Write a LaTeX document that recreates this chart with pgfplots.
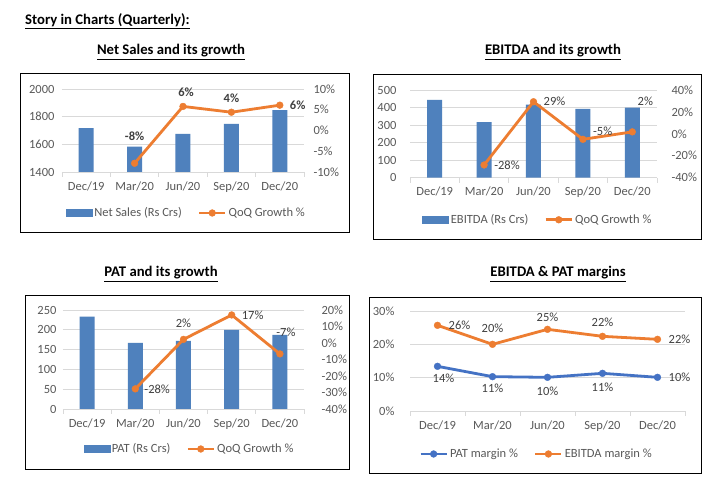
\documentclass[border=0pt]{standalone}
\usepackage{fontspec}
\setmainfont{Carlito}
\usepackage{pgfplots}
\pgfplotsset{compat=1.18}
\definecolor{barblue}{HTML}{4F81BD}
\definecolor{lorange}{HTML}{ED7D31}
\definecolor{lblue}{HTML}{4472C4}
\definecolor{gridgray}{HTML}{D9D9D9}
\definecolor{ticktext}{HTML}{595959}
\definecolor{labtext}{HTML}{404040}
\newcommand{\fs}{\fontsize{12.5}{14}\selectfont}
\newcommand{\tfs}{\fontsize{14.7}{17}\selectfont\bfseries}
\pgfplotsset{
  common/.style={
    scale only axis,
    xmin=-0.5, xmax=4.5,
    /pgf/number format/assume math mode=true,
    /pgf/number format/1000 sep={},
    tick label style={font=\fs, text=ticktext},
    axis line style={draw=none},
    major tick length=0pt,
    y tick style={draw=none},
  },
  leftax/.style={common,
    xtick={0,...,4},
    xticklabels={Dec/19,Mar/20,Jun/20,Sep/20,Dec/20},
    minor xtick={-0.5,0.5,...,4.5},
    minor tick length=5pt,
    tick align=outside,
    xtick pos=bottom,
    ytick pos=left,
    minor x tick style={draw=gridgray, line width=0.75pt},
    ymajorgrids,
    major grid style={draw=gridgray, line width=0.75pt},
    xticklabel style={yshift=-6pt},
    yticklabel style={xshift=-4pt},
  },
  rightax/.style={common,
    xtick=\empty,
    ytick pos=right,
    yticklabel={\pgfmathprintnumber{\tick}\%},
    yticklabel style={xshift=6pt},
    legend style={draw=none, fill=none, font=\fs, text=ticktext, legend columns=2, anchor=center,
      /tikz/every even column/.append style={column sep=14pt}},
  },
  bars/.style={ybar, bar width=15pt, fill=barblue, draw=none},
  barleg/.style={legend image code/.code={\fill[barblue] (0pt,-3.5pt) rectangle (26pt,3.5pt);}},
  lineser/.style={line width=2.8pt, mark=*, mark size=3.4pt,
    mark options={solid, fill=#1, draw=#1, line width=0.4pt}, #1,
    legend image code/.code={\draw[mark repeat=2,mark phase=2,##1] plot coordinates {(0pt,0pt)(13pt,0pt)(26pt,0pt)};},
    nodes near coords, point meta=explicit symbolic,
    every node near coord/.append style={font=\fs, text=labtext, inner sep=2pt}},
}
\begin{document}
\begin{tikzpicture}
\path[use as bounding box, fill=white] (0pt,0pt) rectangle (724pt,489pt);
% titles
\node[anchor=west, inner sep=0pt] at (25pt,468pt) {\tfs\underline{Story in Charts (Quarterly):}};
\node[inner sep=0pt] at (171pt,437pt) {\tfs\underline{Net Sales and its growth}};
\node[inner sep=0pt] at (553pt,437pt) {\tfs\underline{EBITDA and its growth}};
\node[inner sep=0pt] at (161pt,215pt) {\tfs\underline{PAT and its growth}};
\node[inner sep=0pt] at (558pt,215pt) {\tfs\underline{EBITDA \& PAT margins}};
% frames
\draw[black, line width=1pt] (20pt,256pt) rectangle (349pt,415pt);
\draw[black, line width=1pt] (373pt,249pt) rectangle (701pt,414pt);
\draw[black, line width=1pt] (25pt,19pt) rectangle (349pt,193pt);
\draw[black, line width=1pt] (369pt,15pt) rectangle (701pt,191pt);

% ---------- Panel 1: Net Sales ----------
\begin{axis}[leftax, at={(62pt,317pt)}, anchor=south west, width=242pt, height=83pt,
  ymin=1400, ymax=2000, ytick={1400,1600,1800,2000}]
\addplot[bars] coordinates {(0,1718) (1,1583) (2,1675) (3,1747) (4,1848)};
\end{axis}
\begin{axis}[rightax, at={(62pt,317pt)}, anchor=south west, width=242pt, height=83pt,
  ymin=-10, ymax=10, ytick={-10,-5,0,5,10},
  legend style={at={(0.514,-0.494)}}]
\addlegendimage{barleg}
\addlegendentry{Net Sales (Rs Crs)}
\addplot[lineser=lorange,
  every node near coord/.append style={font=\fs\bfseries},
  coordinate style/.condition={\coordindex==0}{anchor=south, yshift=20pt},
  coordinate style/.condition={\coordindex==1}{anchor=south, yshift=8pt, xshift=3pt},
  coordinate style/.condition={\coordindex==2}{anchor=south, yshift=7pt},
  coordinate style/.condition={\coordindex==3}{anchor=west, xshift=8pt}]
  coordinates {(1,-7.9) [-8\%] (2,5.8) [6\%] (3,4.4) [4\%] (4,6.1) [6\%]};
\addlegendentry{QoQ Growth \%}
\end{axis}

% ---------- Panel 2: EBITDA ----------
\begin{axis}[leftax, at={(410pt,311.3pt)}, anchor=south west, width=247pt, height=87.7pt,
  ymin=0, ymax=500, ytick={0,100,...,500}, yticklabel style={xshift=-6pt}]
\addplot[bars] coordinates {(0,443) (1,317) (2,416) (3,393) (4,399)};
\end{axis}
\begin{axis}[rightax, at={(410pt,311.3pt)}, anchor=south west, width=247pt, height=87.7pt,
  ymin=-40, ymax=40, ytick={-40,-20,0,20,40}, yticklabel style={xshift=5pt},
  legend style={at={(0.518,-0.48)}}]
\addlegendimage{barleg}
\addlegendentry{EBITDA (Rs Crs)}
\addplot[lineser=lorange,
  coordinate style/.condition={\coordindex==0}{anchor=west, xshift=8pt},
  coordinate style/.condition={\coordindex==1}{anchor=west, xshift=8pt},
  coordinate style/.condition={\coordindex==2}{anchor=south west, xshift=8pt, yshift=2pt},
  coordinate style/.condition={\coordindex==3}{anchor=south, xshift=13pt, yshift=24pt}]
  coordinates {(1,-28.4) [-28\%] (2,29.3) [29\%] (3,-5.0) [-5\%] (4,1.8) [2\%]};
\addlegendentry{QoQ Growth \%}
\end{axis}

% ---------- Panel 3: PAT ----------
\begin{axis}[leftax, at={(63pt,80pt)}, anchor=south west, width=241pt, height=99pt,
  ymin=0, ymax=250, ytick={0,50,...,250}, yticklabel style={xshift=1pt}]
\addplot[bars] coordinates {(0,233) (1,167) (2,172) (3,200) (4,187)};
\end{axis}
\begin{axis}[rightax, at={(63pt,80pt)}, anchor=south west, width=241pt, height=99pt,
  ymin=-40, ymax=20, ytick={-40,-30,...,20}, yticklabel style={xshift=8pt},
  legend style={at={(0.525,-0.404)}}]
\addlegendimage{barleg}
\addlegendentry{PAT (Rs Crs)}
\addplot[lineser=lorange,
  coordinate style/.condition={\coordindex==0}{anchor=west, xshift=7pt},
  coordinate style/.condition={\coordindex==1}{anchor=south, yshift=10pt},
  coordinate style/.condition={\coordindex==2}{anchor=west, xshift=8pt},
  coordinate style/.condition={\coordindex==3}{anchor=south, xshift=6pt, yshift=15pt}]
  coordinates {(1,-27.8) [-28\%] (2,2.2) [2\%] (3,17.0) [17\%] (4,-6.6) [-7\%]};
\addlegendentry{QoQ Growth \%}
\end{axis}

% ---------- Panel 4: margins ----------
\begin{axis}[leftax, at={(410pt,78pt)}, anchor=south west, width=275pt, height=100pt,
  ymin=0, ymax=30, ytick={0,10,20,30}, yticklabel={\pgfmathprintnumber{\tick}\%},
  yticklabel style={xshift=-8pt},
  legend style={draw=none, fill=none, font=\fs, text=ticktext, legend columns=2, anchor=center,
    at={(0.46,-0.43)}, /tikz/every even column/.append style={column sep=14pt}}]
\addplot[lineser=lblue,
  coordinate style/.condition={\coordindex==0}{anchor=north, xshift=6pt, yshift=-5pt},
  coordinate style/.condition={\coordindex==1}{anchor=north, yshift=-5pt},
  coordinate style/.condition={\coordindex==2}{anchor=north, yshift=-7.5pt},
  coordinate style/.condition={\coordindex==3}{anchor=north, yshift=-7pt},
  coordinate style/.condition={\coordindex==4}{anchor=west, xshift=9pt}]
  coordinates {(0,13.4) [14\%] (1,10.3) [11\%] (2,10.1) [10\%] (3,11.3) [11\%] (4,10.1) [10\%]};
\addlegendentry{PAT margin \%}
\addplot[lineser=lorange,
  coordinate style/.condition={\coordindex==0}{anchor=west, xshift=9pt},
  coordinate style/.condition={\coordindex==1}{anchor=south, yshift=10pt},
  coordinate style/.condition={\coordindex==2}{anchor=south, yshift=6pt},
  coordinate style/.condition={\coordindex==3}{anchor=south, yshift=8pt},
  coordinate style/.condition={\coordindex==4}{anchor=west, xshift=9pt}]
  coordinates {(0,25.7) [26\%] (1,20.0) [20\%] (2,24.5) [25\%] (3,22.4) [22\%] (4,21.5) [22\%]};
\addlegendentry{EBITDA margin \%}
\end{axis}
\end{tikzpicture}
\end{document}
